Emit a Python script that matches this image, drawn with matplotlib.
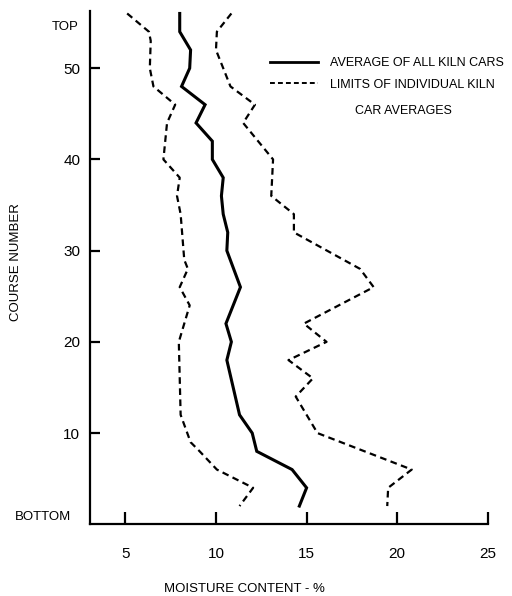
import matplotlib
matplotlib.use("Agg")
import matplotlib.pyplot as plt
from matplotlib.lines import Line2D
from matplotlib.transforms import blended_transform_factory

plt.rcParams['font.family'] = ['Liberation Sans', 'DejaVu Sans']

# course number (bottom = 0) against moisture content, %
avg_course = [56, 54, 52, 50, 48, 46, 44, 42, 40, 38, 36, 34, 32, 30, 26, 22, 20, 18, 12, 10, 8, 6, 4, 2]
avg_mc = [8.0, 8.0, 8.6, 8.55, 8.1, 9.4, 8.9, 9.8, 9.8, 10.4, 10.3, 10.4, 10.65, 10.6,
          11.35, 10.55, 10.85, 10.6, 11.3, 12.0, 12.25, 14.2, 15.0, 14.6]

low_course = [56, 54, 53, 50, 48, 46, 44, 40, 38, 36, 34, 29, 28, 26, 24, 20, 16, 12, 9, 8, 6, 4, 2]
low_mc = [5.1, 6.3, 6.4, 6.35, 6.55, 7.75, 7.3, 7.1, 8.0, 7.85, 8.05, 8.25, 8.45, 8.0,
          8.55, 7.95, 8.0, 8.05, 8.6, 9.1, 10.05, 12.05, 11.3]

high_course = [56, 54, 52, 48, 46, 44, 40, 36, 34, 32, 28, 26, 22, 20, 18, 16, 14, 10, 6, 4, 2]
high_mc = [10.85, 10.05, 10.0, 10.8, 12.15, 11.5, 13.15, 13.05, 14.3, 14.3, 17.95, 18.7,
           14.85, 16.1, 14.0, 15.35, 14.4, 15.6, 20.8, 19.5, 19.45]

x_ticks = [5, 10, 15, 20, 25]
y_ticks = [10, 20, 30, 40, 50]

fig = plt.figure(figsize=(5.12, 5.96), dpi=100)
ax = fig.add_axes([0.1758, 0.1203, 0.777, 0.8617])

dash = (3, 2)
ax.plot(avg_mc, avg_course, color='black', lw=2.2, solid_joinstyle='miter')
ax.plot(low_mc, low_course, color='black', lw=1.6, dashes=dash)
ax.plot(high_mc, high_course, color='black', lw=1.6, dashes=dash)

ax.set_xlim(3.05, 25)
ax.set_ylim(0, 56.3)
ax.set_xticks(x_ticks)
ax.set_yticks(y_ticks)
for s in ['top', 'right']:
    ax.spines[s].set_visible(False)
for s in ['left', 'bottom']:
    ax.spines[s].set_linewidth(1.6)
ax.tick_params(axis='x', direction='in', length=9, width=1.6, pad=16, labelsize=11)
ax.tick_params(axis='y', direction='in', length=7, width=1.6, pad=7, labelsize=11)

# end labels of the course axis
tr = blended_transform_factory(ax.transAxes, ax.transData)
ax.text(-0.028, 54.5, 'TOP', transform=tr, ha='right', va='center', fontsize=9.5)
ax.text(-0.048, 0.85, 'BOTTOM', transform=tr, ha='right', va='center', fontsize=9.5)

fig.text(16 / 512, 1 - 262 / 596, 'COURSE NUMBER', rotation=90, ha='center', va='center', fontsize=9.5)
fig.text(244 / 512, 1 - 589 / 596, 'MOISTURE CONTENT - %', ha='center', va='center', fontsize=9.5)

handles = [Line2D([], [], color='black', lw=2.0),
           Line2D([], [], color='black', lw=1.4, dashes=(2.5, 1.6))]
ax.legend(handles, ['AVERAGE OF ALL KILN CARS', 'LIMITS OF INDIVIDUAL KILN'],
          loc='upper left', bbox_to_anchor=(0.4525, 0.909), frameon=False,
          borderpad=0, borderaxespad=0, handlelength=3.8, handletextpad=1.0,
          labelspacing=0.75, fontsize=9)
ax.text(0.789, 0.8047, 'CAR AVERAGES', transform=ax.transAxes, ha='center', va='center',
        fontsize=9)

fig.savefig('out.png', dpi=100)
